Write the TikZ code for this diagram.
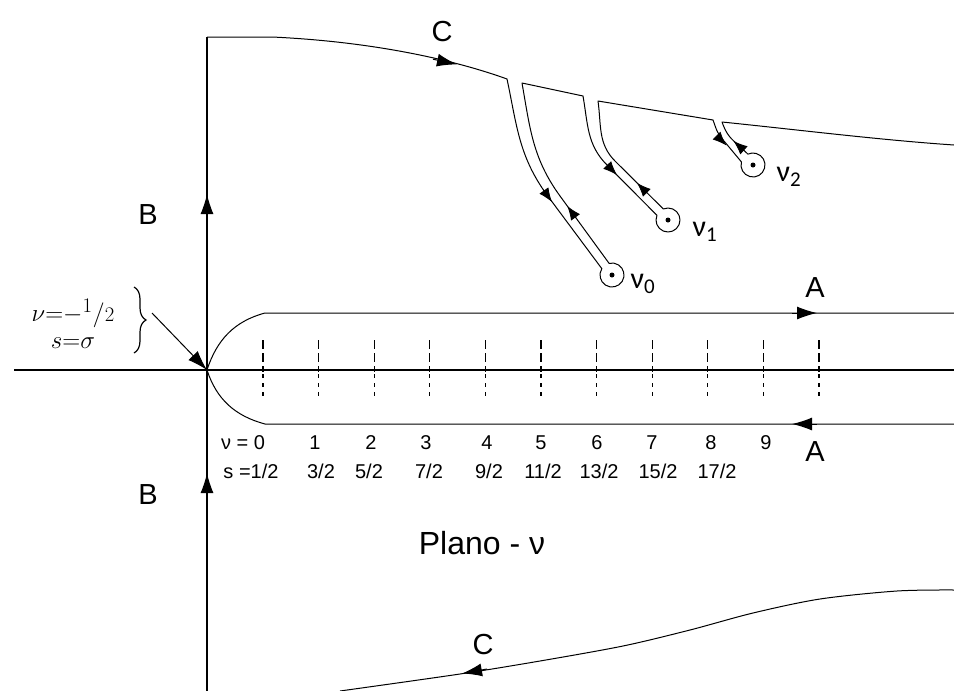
\documentclass[tikz,border=0pt]{standalone}
\usepackage[no-math]{fontspec}
\newfontfamily\lsans{Liberation Sans}
\newfontfamily\nufont{Carlito}
\usetikzlibrary{arrows.meta,decorations.pathreplacing,calc}
\begin{document}
\begin{tikzpicture}[x=1pt,y=-1pt,
  path/.style={line width=1pt,line join=round},
  axisline/.style={line width=1.4pt},
  bigarr/.style={-{Latex[length=20pt,width=13pt]},line width=1pt},
  smallarr/.style={-{Latex[length=14pt,width=11pt]},line width=0.8pt},
  letter/.style={font=\lsans\fontsize{29}{33}\selectfont,inner sep=0pt},
  num/.style={font=\lsans\fontsize{20}{23}\selectfont,inner sep=0pt},
  nulab/.style={font=\nufont\fontsize{30}{34}\selectfont,inner sep=0pt},
  tickup/.style={line width=1.1pt,dash pattern=on 9pt off 4pt},
  tickdn/.style={line width=1.1pt,dash pattern=on 4pt off 5pt},
  dot/.style={circle,fill,inner sep=0pt,minimum size=5pt}]
\useasboundingbox (0,0) rectangle (954,691);

% key points
\coordinate (O) at (207,370);
\coordinate (axL) at (14,370);
\coordinate (axR) at (954,370);
\coordinate (Bbottom) at (207,691);
\coordinate (Btopc) at (207,37);
\coordinate (n0) at (612,275);
\coordinate (n1) at (668,220);
\coordinate (n2) at (753,165);

% axes
\draw[axisline] (axL) -- (axR);
\draw[axisline] (Bbottom) -- (Btopc);
\draw[bigarr] (207,218) -- (207,194);
\draw[bigarr] (207,498) -- (207,473);

% A contour
\draw[path] (O) to[out=72,in=-165] (265,313) -- (954,313);
\draw[path] (O) to[out=-72,in=165] (265,424) -- (954,424);
\draw[bigarr] (792,313) -- (817,313);
\draw[bigarr] (817,424) -- (792,424);

% ticks
\foreach \i in {0,...,10}{
  \pgfmathsetmacro{\xx}{263+55.6*\i}
  \draw[tickup] (\xx,340) -- (\xx,372);
  \draw[tickdn] (\xx,374) -- (\xx,400);
}

% upper C contour with keyholes
\draw[path] (Btopc) -- (272,37) .. controls (380,42) and (460,62) .. (507,79)
  to[out=-78,in=-234] (547,195) -- ($(n0)+(212:12)$)
  arc[start angle=212,end angle=-104,radius=12]
  -- (560,196) to[out=-234,in=-80] (522,83)
  -- (583,96)
  to[out=-80,in=-225] (607,165) -- ($(n1)+(203:12)$)
  arc[start angle=203,end angle=-113,radius=12]
  -- (615,161) to[out=-225,in=-82] (598,101)
  -- (713,120)
  to[out=-70,in=-225] (724,141) -- ($(n2)+(195:12)$)
  arc[start angle=195,end angle=-115,radius=12]
  -- (736,143) to[out=-220,in=-70] (722,122)
  .. controls (800,130) and (880,140) .. (954,145);
\node[dot] at (n0) {};
\node[dot] at (n1) {};
\node[dot] at (n2) {};
\draw[bigarr] (433,59.2) -- (457,64.4);
\draw[smallarr] (543.5,190) -- (552,202);
\draw[smallarr] (576,218) -- (567.3,206);
\draw[smallarr] (607,164.8) -- (617,175);
\draw[smallarr] (647,193) -- (637,182.9);
\draw[smallarr] (717,136) -- (726.5,145.5);
\draw[smallarr] (743,149.5) -- (733.5,141);

% lower C contour
\draw[path] plot[smooth] coordinates {(340,691) (460,674) (540,661) (623,646) (690,630) (753,613) (820,599) (897,591) (954,590)};
\draw[bigarr] (487,669) -- (462,673.5);

% letters
\node[letter] (Ct) at (442,32) {C};
\node[letter] (Cb) at (483,645) {C};
\node[letter] (At) at (815,288) {A};
\node[letter] (Ab) at (815,452) {A};
\node[letter] (Bt) at (148,215) {B};
\node[letter] (Bb) at (148,495) {B};
\node[font=\lsans\fontsize{32}{36}\selectfont,inner sep=0pt] (plano) at (482,543) {Plano - ν};

% nu labels
\node[nulab] (l0) at (643,284) {ν\textsubscript{0}};
\node[nulab] (l1) at (705,232) {ν\textsubscript{1}};
\node[nulab] (l2) at (789,177) {ν\textsubscript{2}};

% numbers
\node[num] (v0) at (243,443) {ν = 0};
\foreach \n/\x in {1/315,2/371,3/426,4/487,5/541,6/597,7/652,8/711,9/766}
  \node[num] (v\n) at (\x,443) {\n};
\node[num] (s0) at (251,471) {s =1/2};
\foreach \t/\x/\k in {{3/2}/321/1,{5/2}/369/2,{7/2}/429/3,{9/2}/489/4,{11/2}/543/5,{13/2}/599/6,{15/2}/658/7,{17/2}/717/8}
  \node[num] (s\k) at (\x,471) {\t};

% left label
\node[font=\fontsize{30}{27}\selectfont,inner sep=0pt,align=center] (lab) at (73,324)
  {$\nu{=}{-}{}^{1}/{\scriptstyle 2}$\\$s{=}\sigma$};
\draw[line width=1.2pt,decorate,decoration={brace,amplitude=12pt}] (134,287) -- (134,353);
\coordinate (arrS) at (152,313);
\draw[bigarr] (arrS) -- (O);
\end{tikzpicture}
\end{document}
